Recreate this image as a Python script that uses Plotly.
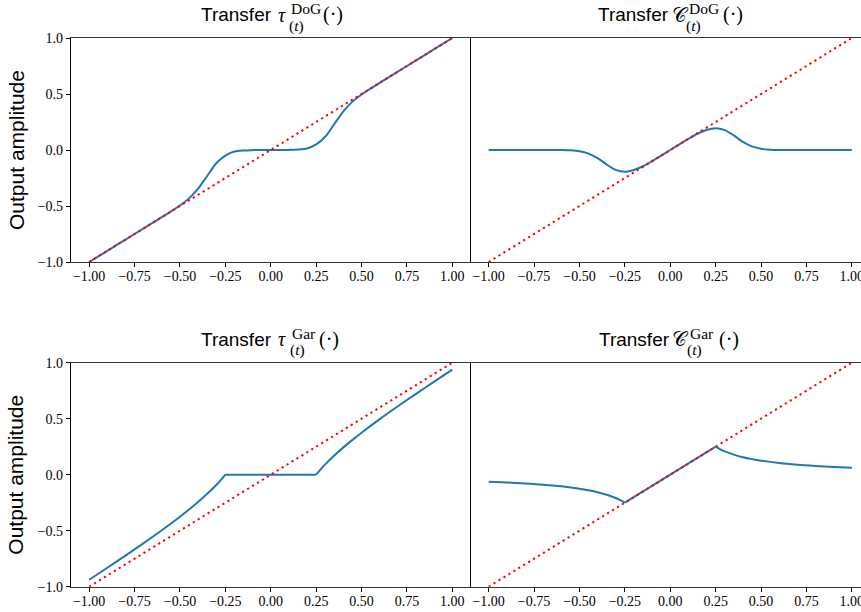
import plotly.graph_objects as go

# ---------------- data ----------------
x_tau_dog = [-1.0, -0.9, -0.8, -0.7, -0.6, -0.55, -0.5, -0.45, -0.4, -0.35, -0.3, -0.25, -0.2, -0.15, -0.1, -0.05,
             0.0, 0.05, 0.1, 0.15, 0.2, 0.25, 0.3, 0.35, 0.4, 0.45, 0.5, 0.55, 0.6, 0.7, 0.8, 0.9, 1.0]
y_tau_dog = [-1.0, -0.9, -0.8, -0.7, -0.6, -0.549, -0.496, -0.432, -0.345, -0.232, -0.118, -0.05, -0.014, -0.004, -0.001, 0.0,
             0.0, 0.0, 0.001, 0.004, 0.014, 0.05, 0.118, 0.232, 0.345, 0.432, 0.496, 0.549, 0.6, 0.7, 0.8, 0.9, 1.0]

x_c_dog = [-1.0, -0.9, -0.8, -0.7, -0.6, -0.55, -0.5, -0.45, -0.4, -0.35, -0.3, -0.25, -0.2, -0.15, -0.1, -0.05,
           0.0, 0.05, 0.1, 0.15, 0.2, 0.25, 0.3, 0.35, 0.4, 0.45, 0.5, 0.55, 0.6, 0.7, 0.8, 0.9, 1.0]
y_c_dog = [0.0, 0.0, 0.0, 0.0, 0.0, -0.003, -0.011, -0.032, -0.072, -0.13, -0.178, -0.194, -0.178, -0.145, -0.099, -0.05,
           0.0, 0.05, 0.099, 0.145, 0.178, 0.194, 0.178, 0.13, 0.072, 0.032, 0.011, 0.003, 0.0, 0.0, 0.0, 0.0, 0.0]

# Garrote curves, read in three pieces (left branch, centre, right branch)
x_gar_left = [-1.0, -0.9, -0.8, -0.7, -0.6, -0.5, -0.45, -0.4, -0.35, -0.3, -0.275, -0.25]
x_gar_mid = [-0.25, 0.0, 0.25]
x_gar_right = [0.25, 0.275, 0.3, 0.35, 0.4, 0.45, 0.5, 0.6, 0.7, 0.8, 0.9, 1.0]

y_tau_gar_left = [-0.938, -0.831, -0.722, -0.611, -0.496, -0.375, -0.311, -0.244, -0.171, -0.092, -0.048, 0.0]
y_tau_gar_mid = [0.0, 0.0, 0.0]
y_tau_gar_right = [0.0, 0.048, 0.092, 0.171, 0.244, 0.311, 0.375, 0.496, 0.611, 0.722, 0.831, 0.938]

y_c_gar_left = [-0.0625, -0.069, -0.078, -0.089, -0.104, -0.125, -0.139, -0.156, -0.179, -0.208, -0.227, -0.25]
y_c_gar_mid = [-0.25, 0.0, 0.25]
y_c_gar_right = [0.25, 0.227, 0.208, 0.179, 0.156, 0.139, 0.125, 0.104, 0.089, 0.078, 0.069, 0.0625]

x_identity = [-1.0, 1.0]
y_identity = [-1.0, 1.0]

x_ticks = [-1.0, -0.75, -0.5, -0.25, 0.0, 0.25, 0.5, 0.75, 1.0]
y_ticks = [-1.0, -0.5, 0.0, 0.5, 1.0]

panel_sup = ["DoG", "DoG", "Gar", "Gar"]
panel_sym = ["<i>τ</i>", "𝒞", "<i>τ</i>", "𝒞"]
ylabel = "Output amplitude"

# ---------------- layout helpers ----------------
W, H = 861, 612
BLUE = "#1f77b4"
SERIF = "Liberation Serif, DejaVu Serif, serif"
SANS = "Liberation Sans, Arial, sans-serif"
MATHF = "DejaVu Serif, DejaVu Sans, Liberation Serif, serif"

def px_x(p):
    return p / W

def px_y(p):
    return 1 - p / H

col_dom = [[71 / W, 470.5 / W], [470.5 / W, 1.0]]
row_px = [(38.0, 262.0), (362.7, 586.7)]
row_dom = [[px_y(b), px_y(t)] for (t, b) in row_px]
x_ranges = [[-1.1, 1.1], [-1.1, 1.0504]]

fig = go.Figure()

panels = [
    [(x_tau_dog, y_tau_dog, "spline")],
    [(x_c_dog, y_c_dog, "spline")],
    [(x_gar_left, y_tau_gar_left, "spline"), (x_gar_mid, y_tau_gar_mid, "linear"),
     (x_gar_right, y_tau_gar_right, "spline")],
    [(x_gar_left, y_c_gar_left, "spline"), (x_gar_mid, y_c_gar_mid, "linear"),
     (x_gar_right, y_c_gar_right, "spline")],
]

layout = dict(width=W, height=H, margin=dict(l=0, r=0, t=0, b=0),
              paper_bgcolor="white", plot_bgcolor="white", showlegend=False)

for i, pieces in enumerate(panels):
    r, c = divmod(i, 2)
    n = i + 1
    xa = "x" if n == 1 else f"x{n}"
    ya = "y" if n == 1 else f"y{n}"
    for xs, ys, shape in pieces:
        line = dict(color=BLUE, width=2, shape=shape)
        if shape == "spline":
            line["smoothing"] = 0.8
        fig.add_trace(go.Scatter(x=xs, y=ys, mode="lines", line=line, xaxis=xa, yaxis=ya, hoverinfo="skip"))
    fig.add_trace(go.Scatter(x=x_identity, y=y_identity, mode="lines",
                             line=dict(color="#ff0000", width=2, dash="2.2px,3.6px"),
                             xaxis=xa, yaxis=ya, hoverinfo="skip"))
    xkey = "xaxis" if n == 1 else f"xaxis{n}"
    ykey = "yaxis" if n == 1 else f"yaxis{n}"
    layout[xkey] = dict(domain=col_dom[c], range=x_ranges[c], anchor=ya,
                        tickvals=x_ticks, tickformat=".2f", ticks="outside", ticklen=4, tickwidth=1,
                        tickcolor="black", showline=True, linecolor="#333333", linewidth=1.2, mirror=True,
                        showgrid=False, zeroline=False, automargin=False, ticklabeloverflow="allow",
                        ticklabelstandoff=-3,
                        tickfont=dict(family=SERIF, size=14, color="black"))
    layout[ykey] = dict(domain=row_dom[r], range=[-1.0, 1.0], anchor=xa,
                        tickvals=y_ticks, tickformat=".1f",
                        ticks="outside" if c == 0 else "", ticklen=4, tickwidth=1, tickcolor="black",
                        showticklabels=(c == 0),
                        showline=True, linecolor="black", linewidth=1.3, mirror=False,
                        showgrid=False, zeroline=False, automargin=False,
                        tickfont=dict(family=SERIF, size=14, color="black"))

fig.update_layout(**layout)

# ---------------- titles and labels ----------------
ann = []

def add_text(text, xl, yc, family, size, anchor="left"):
    ann.append(dict(text=text, x=px_x(xl), y=px_y(yc), xref="paper", yref="paper",
                    xanchor=anchor, yanchor="middle", showarrow=False,
                    font=dict(family=family, size=size, color="black")))

# left-edge pixel positions of each title part: Transfer, symbol, sup, sub, (.)
title_pos = [(199, 276, 289, 287, 321), (596, 670, 687, 684, 721),
             (199, 276, 290, 288, 317), (597, 670, 688, 685, 717)]
for i in range(4):
    r, c = divmod(i, 2)
    top = row_px[r][0]
    p = title_pos[i]
    add_text("Transfer", p[0], top - 23.3, SANS, 19)
    sym_font = SERIF if "τ" in panel_sym[i] else MATHF
    add_text(panel_sym[i], p[1], top - 23.3, sym_font, 20)
    add_text(panel_sup[i], p[2], top - 29.5, SERIF, 15.5)
    add_text("(<i>t</i>)", p[3], top - 12.3, SERIF, 15.5)
    add_text("(·)", p[4], top - 23.3, SERIF, 20)

for r in range(2):
    t, b = row_px[r]
    ann.append(dict(text=ylabel, x=px_x(16), y=px_y((t + b) / 2), xref="paper", yref="paper",
                    xanchor="center", yanchor="middle", textangle=-90, showarrow=False,
                    font=dict(family=SANS, size=21, color="black")))

fig.update_layout(annotations=ann)

fig.write_html("out.html")
